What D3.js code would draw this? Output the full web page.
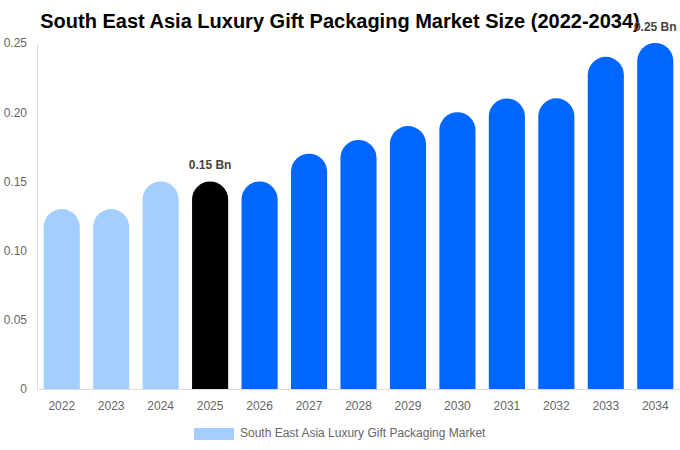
<!DOCTYPE html>
<html>
<head>
<meta charset="utf-8">
<script src="https://cdn.jsdelivr.net/npm/d3@7"></script>
<style>
  body { margin: 0; background: #fff; }
  svg { font-family: "Liberation Sans", Arial, sans-serif; }
</style>
</head>
<body>
<div id="chart"></div>
<script>
let anios   = ["2022","2023","2024","2025","2026","2027","2028","2029","2030","2031","2032","2033","2034"]
let valores = [0.13, 0.13, 0.15, 0.15, 0.15, 0.17, 0.18, 0.19, 0.20, 0.21, 0.21, 0.24, 0.25]
let tipo    = ["hist","hist","hist","actual","prev","prev","prev","prev","prev","prev","prev","prev","prev"]
let etiquetas = {"2025": "0.15 Bn", "2034": "0.25 Bn"}
let ticks_y = [0, 0.05, 0.10, 0.15, 0.20, 0.25]

let width = 680
let height = 450
let margen = {top: 43, right: 0, bottom: 61, left: 37}

let colores = {hist: "#a2cfff", actual: "#000000", prev: "#0066ff"}

let svg = d3.select("#chart").append("svg")
    .attr("width", width).attr("height", height)

let x = d3.scaleBand()
    .domain(anios)
    .range([margen.left, width - margen.right])
    .paddingInner(0.27)
    .paddingOuter(0.135)

let y = d3.scaleLinear()
    .domain([0, 0.25])
    .range([height - margen.bottom, margen.top])

/*--- titulo ---*/
svg.append("text")
    .attr("x", 340).attr("y", 28)
    .attr("text-anchor", "middle")
    .style("font-size", "20px")
    .style("font-weight", "bold")
    .attr("fill", "#000")
    .text("South East Asia Luxury Gift Packaging Market Size (2022-2034)")

/*--- ejes ---*/
let ejeY = svg.append("g")
    .attr("transform", "translate(" + margen.left + ",0)")
    .call(d3.axisLeft(y).tickValues(ticks_y).tickSize(0).tickPadding(10)
        .tickFormat(d => d === 0 ? "0" : d3.format(".2f")(d)))
ejeY.select(".domain").attr("stroke", "#ddd")
ejeY.selectAll("text").style("font-size", "12px").attr("fill", "#666")

let ejeX = svg.append("g")
    .attr("transform", "translate(0," + (height - margen.bottom) + ")")
    .call(d3.axisBottom(x).tickSize(0).tickPadding(12))
ejeX.select(".domain").attr("stroke", "#ddd")
ejeX.selectAll("text").style("font-size", "12px").attr("fill", "#666")

/*--- barras redondeadas arriba ---*/
function barra(d, i) {
    let x0 = x(d), w = x.bandwidth(), r = w / 2
    let yt = y(valores[i]), yb = y(0)
    return "M" + x0 + "," + yb +
        "V" + (yt + r) +
        "A" + r + "," + r + " 0 0 1 " + (x0 + w) + "," + (yt + r) +
        "V" + yb + "Z"
}

svg.append("g").selectAll("path")
    .data(anios)
    .enter().append("path")
    .attr("d", barra)
    .attr("fill", (d, i) => colores[tipo[i]])

// etiquetas de valor (la de 2034 pisa el titulo, igual que en el original)
svg.append("g").selectAll("text")
    .data(anios.filter(d => etiquetas[d]))
    .enter().append("text")
    .attr("x", d => x(d) + x.bandwidth() / 2)
    .attr("y", d => y(valores[anios.indexOf(d)]) - 12)
    .attr("text-anchor", "middle")
    .style("font-size", "12px")
    .style("font-weight", "bold")
    .attr("fill", "#444")
    .text(d => etiquetas[d])

/*--- leyenda ---*/
let ley = svg.append("g")
ley.append("rect")
    .attr("x", 194).attr("y", 428).attr("width", 40).attr("height", 12)
    .attr("fill", colores.hist)
ley.append("text")
    .attr("x", 240).attr("y", 437)
    .style("font-size", "12px")
    .attr("fill", "#666")
    .text("South East Asia Luxury Gift Packaging Market")
</script>
</body>
</html>
